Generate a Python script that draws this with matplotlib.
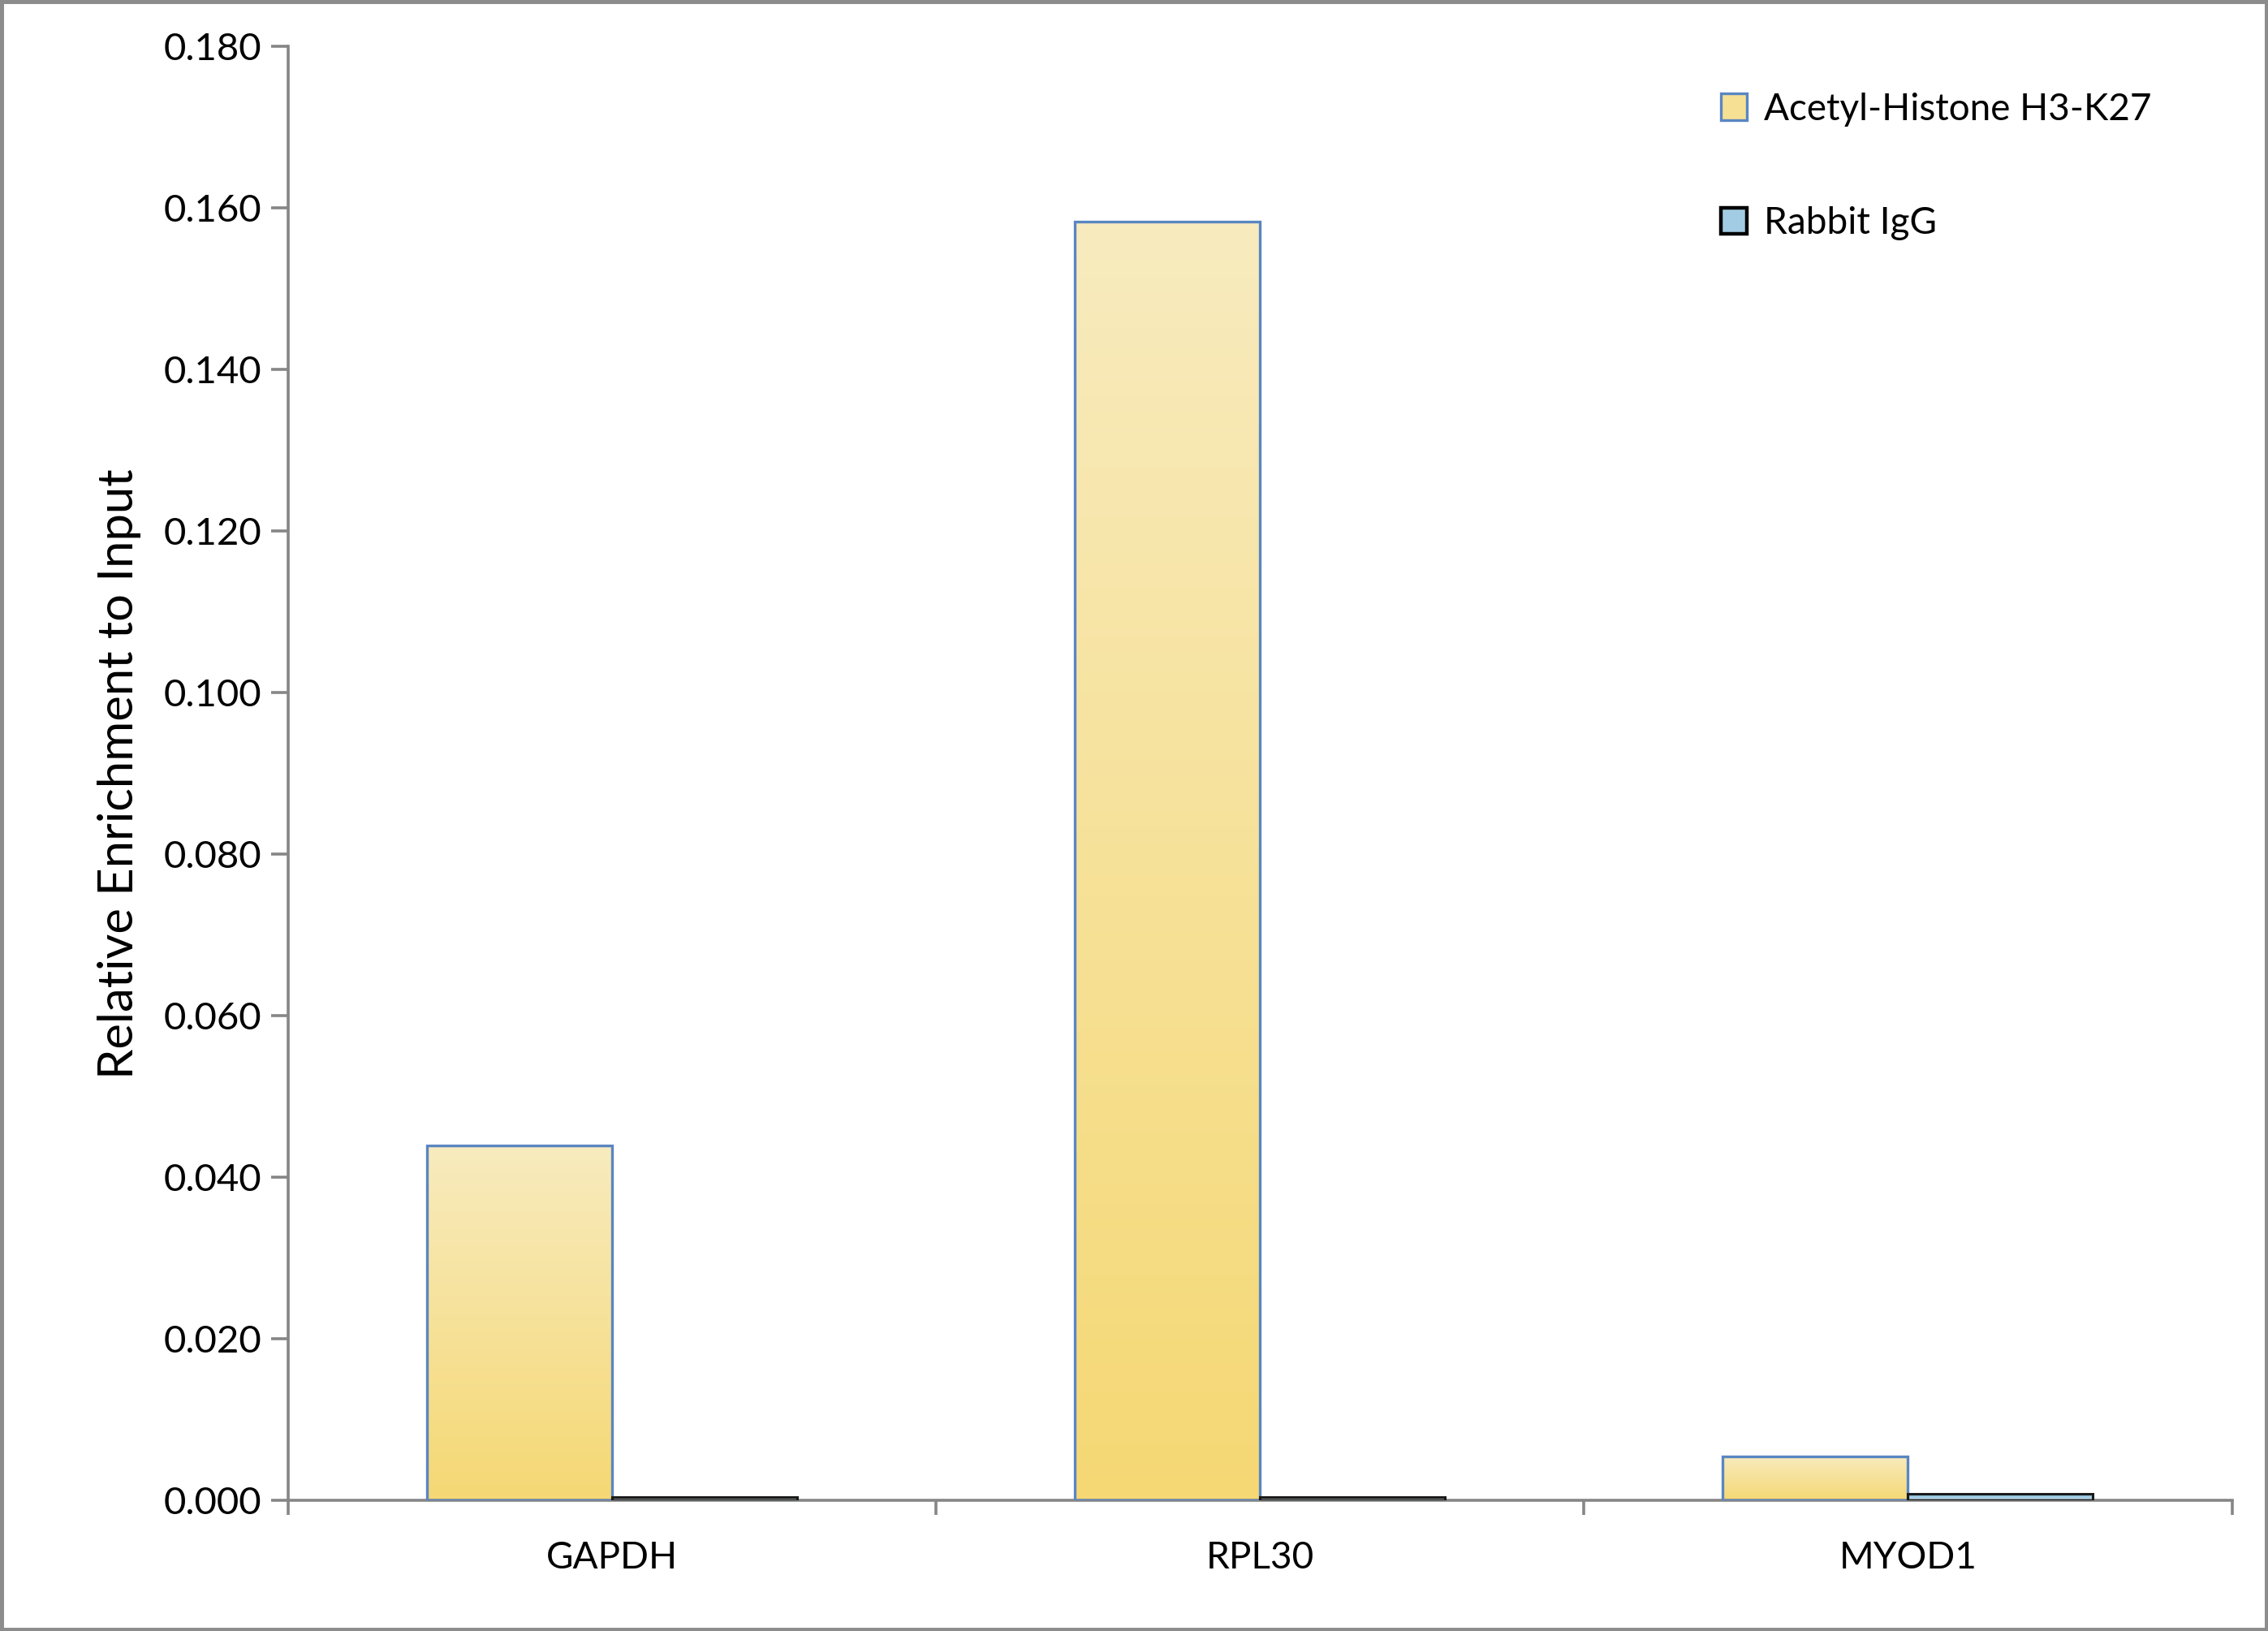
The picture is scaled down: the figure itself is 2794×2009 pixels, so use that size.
import numpy as np
import matplotlib
matplotlib.use('Agg')
import matplotlib.pyplot as plt
from matplotlib.colors import LinearSegmentedColormap
from matplotlib.patches import Rectangle, Patch

plt.rcParams['font.family'] = ['Lato', 'DejaVu Sans']

genes = ['GAPDH', 'RPL30', 'MYOD1']
acetyl_h3k27 = [0.0440, 0.1583, 0.0055]
rabbit_igg = [0.0005, 0.0005, 0.0009]
series_names = ['Acetyl-Histone H3-K27', 'Rabbit IgG']
y_ticks = [0.0, 0.02, 0.04, 0.06, 0.08, 0.10, 0.12, 0.14, 0.16, 0.18]

# цвета: градиент снизу вверх, как в Excel
yellow_cmap = LinearSegmentedColormap.from_list('yel', ['#F5D874', '#F8EBBE'])
blue_cmap = LinearSegmentedColormap.from_list('blu', ['#BCDCEC', '#7DB7D8'])

fig = plt.figure(figsize=(13.97, 10.045), dpi=200)
ax = fig.add_axes([0.1269, 0.0799, 0.8572, 0.8917])

x = np.arange(len(genes))
w = 0.2857
grad = np.linspace(0, 1, 256).reshape(-1, 1)


def gradient_bars(xs, vals, cmap, edge, lw):
    bars = ax.bar(xs, vals, w, facecolor='none', edgecolor=edge, linewidth=lw, zorder=3)
    for b in bars:
        x0, y0 = b.get_x(), b.get_y()
        ax.imshow(grad, extent=[x0, x0 + b.get_width(), y0, y0 + b.get_height()],
                  origin='lower', aspect='auto', cmap=cmap, zorder=2, interpolation='bilinear')
    return bars


gradient_bars(x - w / 2, acetyl_h3k27, yellow_cmap, '#5A86C2', 1.2)
gradient_bars(x + w / 2, rabbit_igg, blue_cmap, '#1A1A1A', 1.1)

ax.set_xlim(-0.5, len(genes) - 0.5)
ax.set_ylim(0, 0.18)
ax.set_yticks(y_ticks)
ax.set_yticklabels([f'{t:.3f}' for t in y_ticks], fontsize=17)
ax.set_xticks(np.arange(-0.5, len(genes), 1.0))
ax.set_xticklabels([])
ax.set_xticks(x, minor=True)
ax.set_xticklabels(genes, minor=True, fontsize=16.5)
ax.tick_params(axis='x', which='minor', length=0, pad=18)
ax.tick_params(axis='x', which='major', length=6.5, width=1.3, color='#868686')
ax.tick_params(axis='y', length=7.5, width=1.3, color='#868686', pad=4)

for s in ['top', 'right']:
    ax.spines[s].set_visible(False)
for s in ['left', 'bottom']:
    ax.spines[s].set_color('#868686')
    ax.spines[s].set_linewidth(1.3)

ax.set_ylabel('Relative Enrichment to Input', fontsize=21.5, labelpad=10)

handles = [Patch(facecolor='#F6E094', edgecolor='#5A86C2', linewidth=1.2),
           Patch(facecolor='#A2CCE3', edgecolor='black', linewidth=1.6)]
fig.legend(handles, series_names, loc='upper left', bbox_to_anchor=(0.744, 0.964),
           frameon=False, fontsize=16.5, handlelength=0.7, handleheight=0.7,
           handletextpad=0.45, labelspacing=2.15)

fig.patches.append(Rectangle((0.0005, 0.0005), 0.999, 0.999, transform=fig.transFigure,
                             fill=False, edgecolor='#8C8C8C', linewidth=2.5))

fig.savefig('out.png', dpi=200)
